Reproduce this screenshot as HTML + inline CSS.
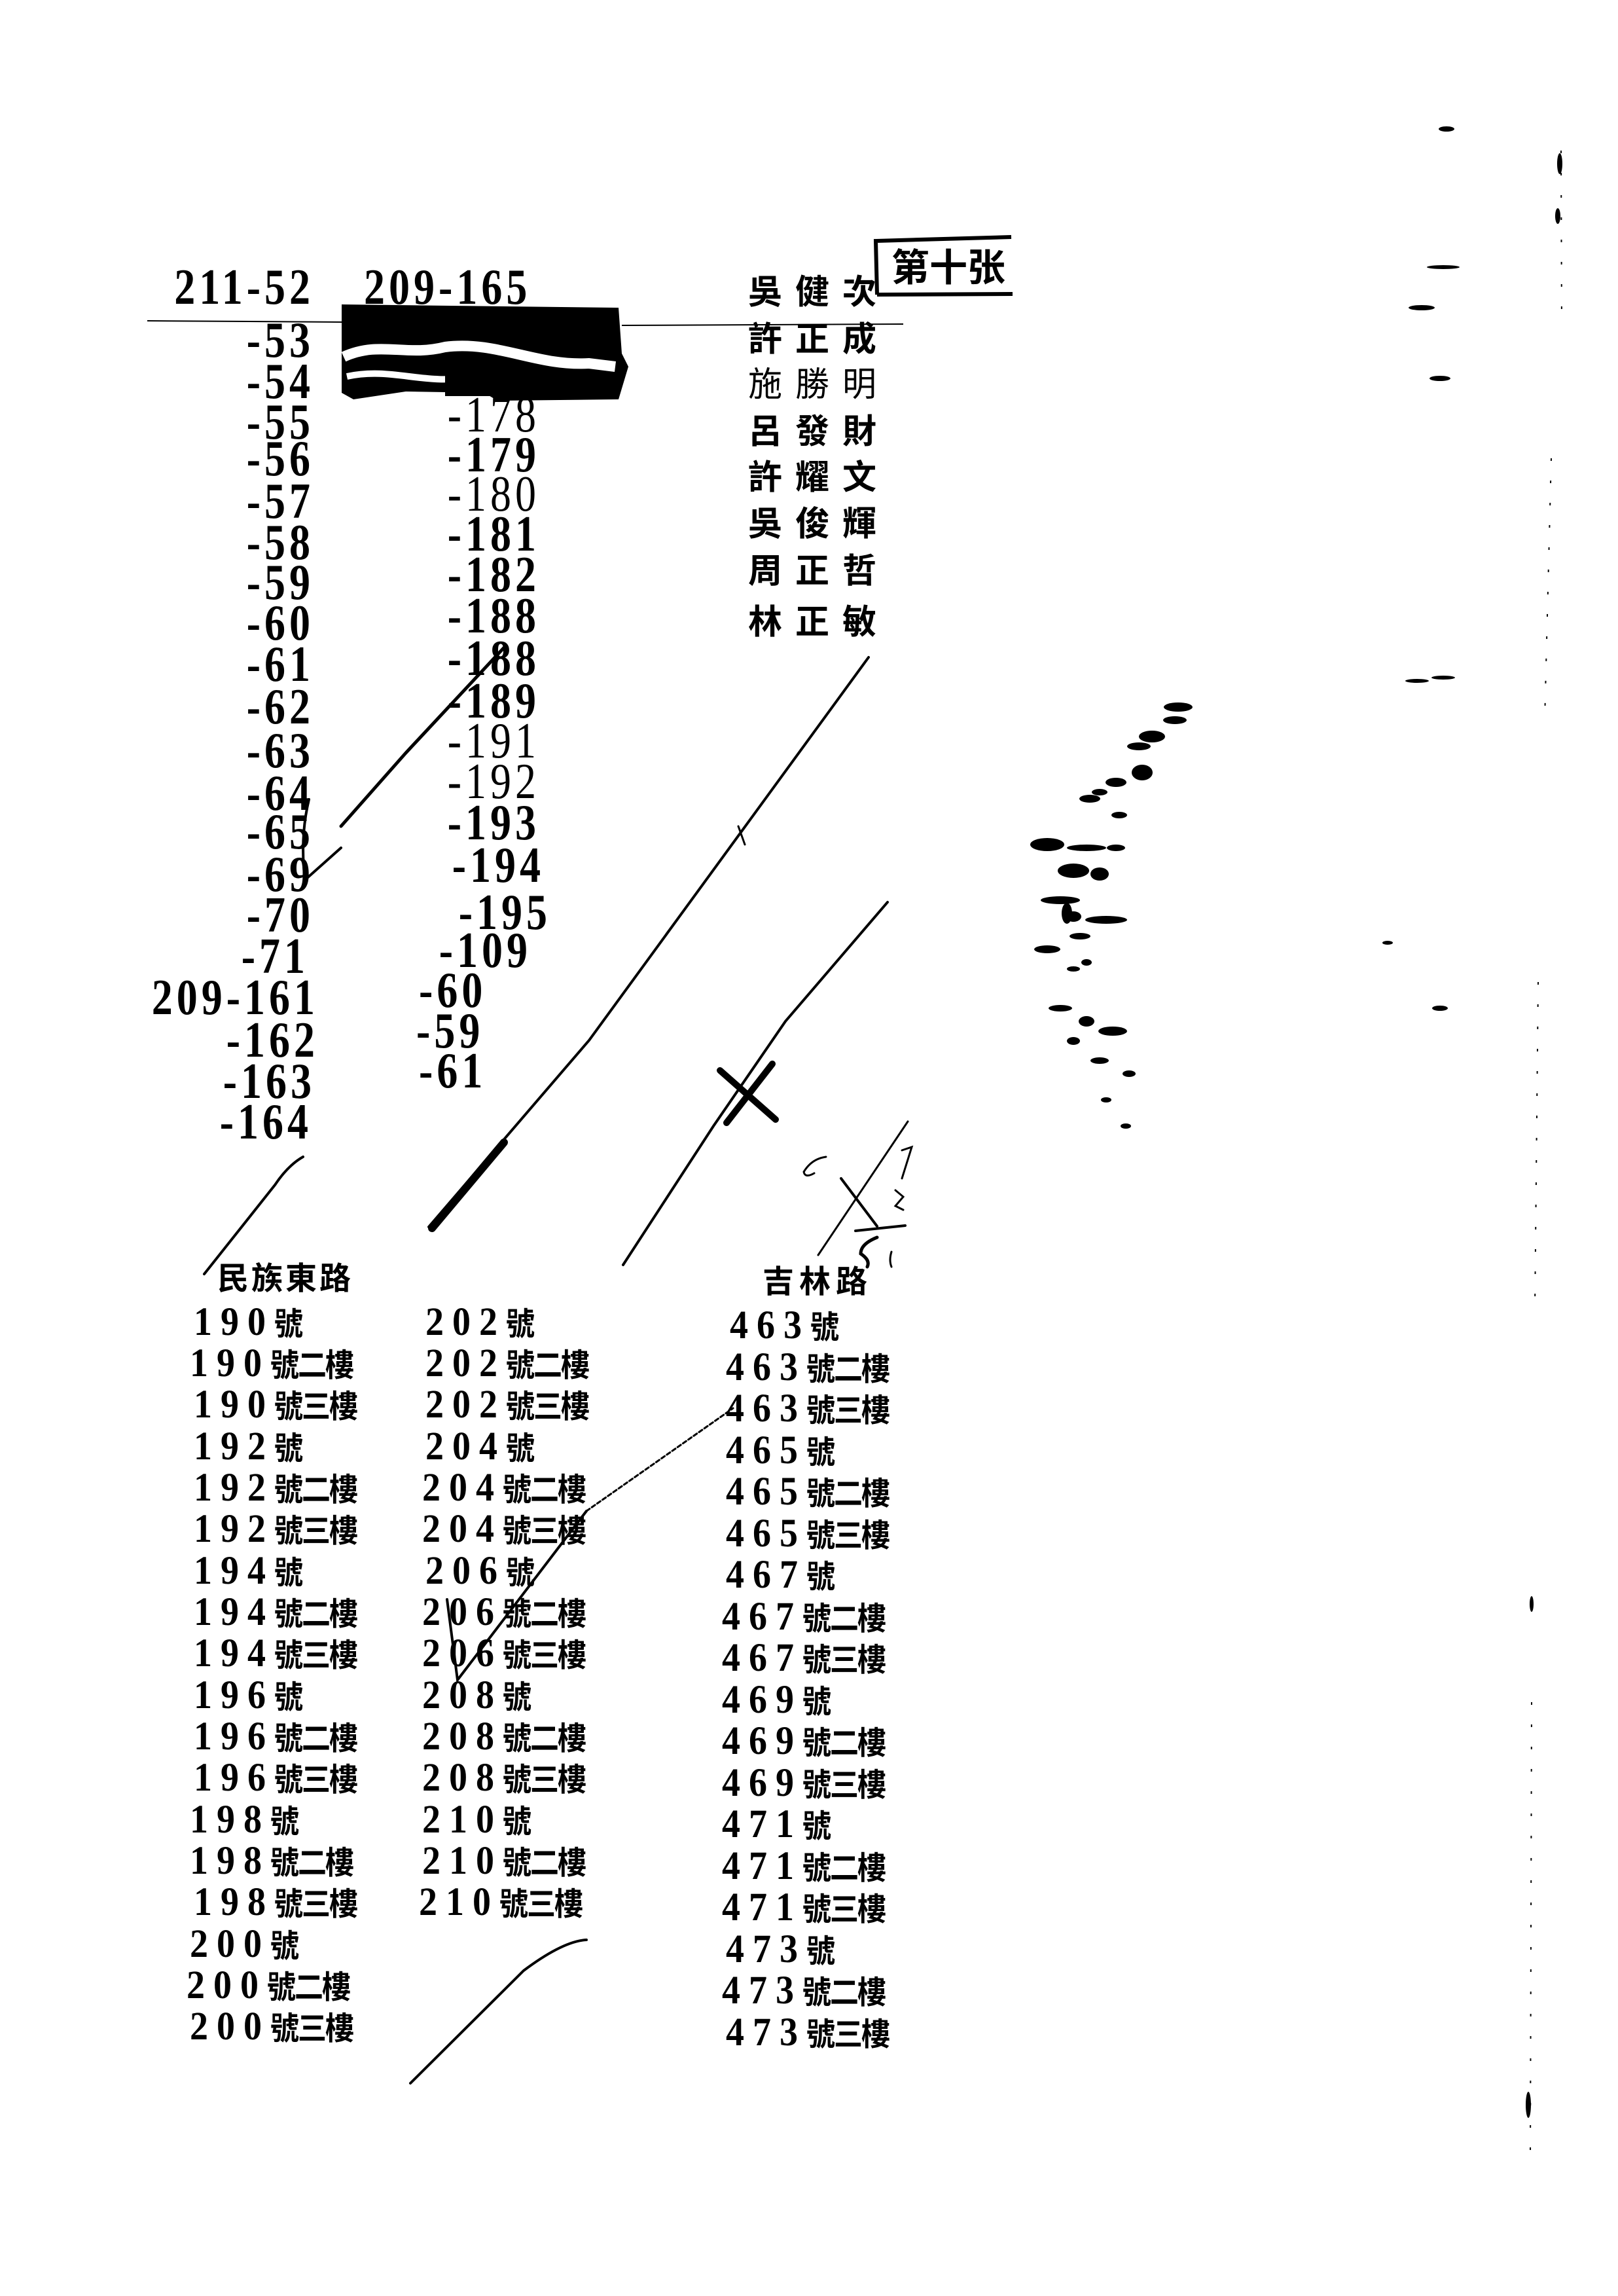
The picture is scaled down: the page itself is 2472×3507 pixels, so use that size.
<!DOCTYPE html>
<html><head><meta charset="utf-8"><style>
html,body{margin:0;padding:0;background:#fff}
body{width:2472px;height:3507px;position:relative;overflow:hidden}
.t{position:absolute;white-space:nowrap;color:#000;font-family:"Liberation Serif","Noto Serif CJK SC",serif;font-weight:bold;line-height:1}
.n{font-size:64px;letter-spacing:6px;transform:scaleY(1.2)}
.r{text-align:right}
.c{font-family:"Liberation Serif","Noto Sans CJK TC",sans-serif;font-size:52px;letter-spacing:20px}
.b{font-size:56px;letter-spacing:13px;transform:scaleY(1.1)}
.b span{font-family:"Noto Sans CJK TC",sans-serif;font-size:44px;letter-spacing:-2px}
svg{position:absolute;left:0;top:0}
</style></head><body>

<div class="t n r" style="right:1992px;top:407px">211-52</div>
<div class="t n r" style="right:1992px;top:488px">-53</div>
<div class="t n r" style="right:1992px;top:551px">-54</div>
<div class="t n r" style="right:1992px;top:613px">-55</div>
<div class="t n r" style="right:1992px;top:669px">-56</div>
<div class="t n r" style="right:1992px;top:734px">-57</div>
<div class="t n r" style="right:1992px;top:797px">-58</div>
<div class="t n r" style="right:1992px;top:858px">-59</div>
<div class="t n r" style="right:1992px;top:920px">-60</div>
<div class="t n r" style="right:1992px;top:983px">-61</div>
<div class="t n r" style="right:1992px;top:1048px">-62</div>
<div class="t n r" style="right:1992px;top:1115px">-63</div>
<div class="t n r" style="right:1992px;top:1180px">-64</div>
<div class="t n r" style="right:1992px;top:1239px">-65</div>
<div class="t n r" style="right:1992px;top:1304px">-69</div>
<div class="t n r" style="right:1992px;top:1366px">-70</div>
<div class="t n r" style="right:2000px;top:1429px">-71</div>
<div class="t n r" style="right:1985px;top:1492px">209-161</div>
<div class="t n r" style="right:1985px;top:1557px">-162</div>
<div class="t n r" style="right:1990px;top:1620px">-163</div>
<div class="t n r" style="right:1995px;top:1682px">-164</div>

<div class="t n" style="left:556px;top:407px">209-165</div>
<div class="t n r" style="right:1647px;top:602px;font-weight:normal">-178</div>
<div class="t n r" style="right:1647px;top:663px">-179</div>
<div class="t n r" style="right:1647px;top:723px;font-weight:normal">-180</div>
<div class="t n r" style="right:1647px;top:784px">-181</div>
<div class="t n r" style="right:1647px;top:846px">-182</div>
<div class="t n r" style="right:1647px;top:909px">-188</div>
<div class="t n r" style="right:1647px;top:974px">-188</div>
<div class="t n r" style="right:1647px;top:1039px">-189</div>
<div class="t n r" style="right:1647px;top:1100px;font-weight:normal">-191</div>
<div class="t n r" style="right:1647px;top:1162px;font-weight:normal">-192</div>
<div class="t n r" style="right:1647px;top:1225px">-193</div>
<div class="t n r" style="right:1640px;top:1290px">-194</div>
<div class="t n r" style="right:1630px;top:1362px">-195</div>
<div class="t n r" style="right:1660px;top:1420px">-109</div>
<div class="t n" style="left:640px;top:1481px">-60</div>
<div class="t n" style="left:636px;top:1543px">-59</div>
<div class="t n" style="left:640px;top:1604px">-61</div>

<div class="t c" style="left:1143px;top:422px">吳健次</div>
<div class="t c" style="left:1143px;top:494px">許正成</div>
<div class="t c" style="left:1143px;top:563px;font-weight:normal">施勝明</div>
<div class="t c" style="left:1143px;top:635px">呂發財</div>
<div class="t c" style="left:1143px;top:705px">許耀文</div>
<div class="t c" style="left:1143px;top:776px">吳俊輝</div>
<div class="t c" style="left:1143px;top:848px">周正哲</div>
<div class="t c" style="left:1143px;top:926px">林正敏</div>

<div class="t" style="left:1362px;top:375px;font-size:58px;font-family:'Noto Sans CJK TC',sans-serif">第十张</div>

<div class="t c" style="left:332px;top:1930px;font-size:48px;letter-spacing:4px">民族東路</div>
<div class="t c" style="left:1165px;top:1935px;font-size:48px;letter-spacing:8px">吉林路</div>

<div class="t b" style="left:296px;top:1991px">190<span>號</span></div>
<div class="t b" style="left:290px;top:2054px">190<span>號二樓</span></div>
<div class="t b" style="left:296px;top:2117px">190<span>號三樓</span></div>
<div class="t b" style="left:296px;top:2181px">192<span>號</span></div>
<div class="t b" style="left:296px;top:2244px">192<span>號二樓</span></div>
<div class="t b" style="left:296px;top:2307px">192<span>號三樓</span></div>
<div class="t b" style="left:296px;top:2371px">194<span>號</span></div>
<div class="t b" style="left:296px;top:2434px">194<span>號二樓</span></div>
<div class="t b" style="left:296px;top:2497px">194<span>號三樓</span></div>
<div class="t b" style="left:296px;top:2561px">196<span>號</span></div>
<div class="t b" style="left:296px;top:2624px">196<span>號二樓</span></div>
<div class="t b" style="left:296px;top:2687px">196<span>號三樓</span></div>
<div class="t b" style="left:290px;top:2751px">198<span>號</span></div>
<div class="t b" style="left:290px;top:2814px">198<span>號二樓</span></div>
<div class="t b" style="left:296px;top:2877px">198<span>號三樓</span></div>
<div class="t b" style="left:290px;top:2941px">200<span>號</span></div>
<div class="t b" style="left:285px;top:3004px">200<span>號二樓</span></div>
<div class="t b" style="left:290px;top:3067px">200<span>號三樓</span></div>

<div class="t b" style="left:650px;top:1991px">202<span>號</span></div>
<div class="t b" style="left:650px;top:2054px">202<span>號二樓</span></div>
<div class="t b" style="left:650px;top:2117px">202<span>號三樓</span></div>
<div class="t b" style="left:650px;top:2181px">204<span>號</span></div>
<div class="t b" style="left:645px;top:2244px">204<span>號二樓</span></div>
<div class="t b" style="left:645px;top:2307px">204<span>號三樓</span></div>
<div class="t b" style="left:650px;top:2371px">206<span>號</span></div>
<div class="t b" style="left:645px;top:2434px">206<span>號二樓</span></div>
<div class="t b" style="left:645px;top:2497px">206<span>號三樓</span></div>
<div class="t b" style="left:645px;top:2561px">208<span>號</span></div>
<div class="t b" style="left:645px;top:2624px">208<span>號二樓</span></div>
<div class="t b" style="left:645px;top:2687px">208<span>號三樓</span></div>
<div class="t b" style="left:645px;top:2751px">210<span>號</span></div>
<div class="t b" style="left:645px;top:2814px">210<span>號二樓</span></div>
<div class="t b" style="left:640px;top:2877px">210<span>號三樓</span></div>

<div class="t b" style="left:1115px;top:1996px">463<span>號</span></div>
<div class="t b" style="left:1109px;top:2060px">463<span>號二樓</span></div>
<div class="t b" style="left:1109px;top:2123px">463<span>號三樓</span></div>
<div class="t b" style="left:1109px;top:2187px">465<span>號</span></div>
<div class="t b" style="left:1109px;top:2250px">465<span>號二樓</span></div>
<div class="t b" style="left:1109px;top:2314px">465<span>號三樓</span></div>
<div class="t b" style="left:1109px;top:2377px">467<span>號</span></div>
<div class="t b" style="left:1103px;top:2441px">467<span>號二樓</span></div>
<div class="t b" style="left:1103px;top:2504px">467<span>號三樓</span></div>
<div class="t b" style="left:1103px;top:2568px">469<span>號</span></div>
<div class="t b" style="left:1103px;top:2631px">469<span>號二樓</span></div>
<div class="t b" style="left:1103px;top:2695px">469<span>號三樓</span></div>
<div class="t b" style="left:1103px;top:2758px">471<span>號</span></div>
<div class="t b" style="left:1103px;top:2822px">471<span>號二樓</span></div>
<div class="t b" style="left:1103px;top:2885px">471<span>號三樓</span></div>
<div class="t b" style="left:1109px;top:2949px">473<span>號</span></div>
<div class="t b" style="left:1103px;top:3012px">473<span>號二樓</span></div>
<div class="t b" style="left:1109px;top:3076px">473<span>號三樓</span></div>

<svg width="2472" height="3507" viewBox="0 0 2472 3507">
 <g fill="#000">
  <path d="M522 465 L945 470 L950 540 L960 560 L945 610 L760 612 L740 600 L620 598 L540 610 L522 600 Z"/>
 </g>
 <path d="M525 545 C580 520 620 545 680 530 C760 520 820 560 900 555 L940 560" stroke="#fff" stroke-width="16" fill="none"/>
 <path d="M530 575 C600 560 650 590 720 575" stroke="#fff" stroke-width="10" fill="none"/>
 <rect x="680" y="565" width="100" height="40" fill="#000"/>
 <path d="M1340 450 L1338 368 L1545 362 M1340 450 L1547 449" stroke="#000" stroke-width="6" fill="none"/>
 <path d="M225 490 L525 492 M950 497 L1380 495" stroke="#000" stroke-width="2" fill="none"/>
 <g stroke="#000" fill="none" stroke-linecap="round">
  <path d="M472 1221 Q458 1280 466 1344 L521 1295" stroke-width="4"/>
  <path d="M521 1262 L620 1150 L773 986" stroke-width="5"/>
  <path d="M655 1874 L760 1752 L900 1589 L1327 1004" stroke-width="4"/>
  <path d="M660 1876 L770 1745" stroke-width="12"/>
  <path d="M952 1932 L1090 1720 L1200 1560 L1356 1378" stroke-width="4"/>
  <path d="M1100 1635 L1185 1710 M1180 1625 L1110 1715" stroke-width="10"/>
  <path d="M312 1946 L420 1810 Q440 1780 463 1767" stroke-width="4"/>
  <path d="M1387 1713 L1250 1917" stroke-width="3"/>
  <path d="M1285 1800 L1340 1873 M1307 1880 L1383 1872" stroke-width="4"/>
  <path d="M1262 1767 Q1240 1770 1228 1790 Q1230 1800 1244 1792" stroke-width="3"/>
  <path d="M1378 1757 L1393 1752 L1378 1800" stroke-width="3"/>
  <path d="M1368 1818 L1380 1828 L1368 1842 L1380 1848" stroke-width="3"/>
  <path d="M1340 1890 Q1315 1900 1315 1915 Q1330 1925 1325 1935" stroke-width="5"/>
  <path d="M1362 1912 Q1358 1925 1362 1935" stroke-width="3"/>
  <path d="M683 2443 L699 2566 L896 2308" stroke-width="4"/>
  <path d="M896 2308 L1120 2151" stroke-width="3" stroke-dasharray="6 4"/>
  <path d="M627 3182 L800 3010 Q860 2965 896 2963" stroke-width="4"/>
  <path d="M1128 1262 L1138 1290" stroke-width="3"/>
 </g>
 <g fill="#000">
  <ellipse cx="1800" cy="1080" rx="22" ry="7"/><ellipse cx="1795" cy="1100" rx="18" ry="6"/>
  <ellipse cx="1760" cy="1125" rx="20" ry="9"/><ellipse cx="1740" cy="1140" rx="18" ry="6"/>
  <ellipse cx="1745" cy="1180" rx="16" ry="12"/><ellipse cx="1705" cy="1195" rx="16" ry="7"/>
  <ellipse cx="1680" cy="1210" rx="12" ry="5"/><ellipse cx="1665" cy="1220" rx="16" ry="6"/>
  <ellipse cx="1710" cy="1245" rx="12" ry="5"/><ellipse cx="1705" cy="1295" rx="14" ry="5"/>
  <ellipse cx="1600" cy="1290" rx="26" ry="10"/><ellipse cx="1660" cy="1295" rx="30" ry="5"/>
  <ellipse cx="1640" cy="1330" rx="24" ry="11"/><ellipse cx="1680" cy="1335" rx="14" ry="10"/>
  <ellipse cx="1620" cy="1375" rx="30" ry="6"/><ellipse cx="1640" cy="1400" rx="12" ry="8"/>
  <ellipse cx="1690" cy="1405" rx="32" ry="6"/><ellipse cx="1650" cy="1430" rx="16" ry="5"/>
  <ellipse cx="1630" cy="1395" rx="8" ry="16"/><ellipse cx="1660" cy="1470" rx="8" ry="5"/>
  <ellipse cx="1600" cy="1450" rx="20" ry="6"/><ellipse cx="1640" cy="1480" rx="10" ry="4"/>
  <ellipse cx="1620" cy="1540" rx="18" ry="5"/><ellipse cx="1660" cy="1560" rx="12" ry="8"/>
  <ellipse cx="1700" cy="1575" rx="22" ry="7"/><ellipse cx="1640" cy="1590" rx="10" ry="6"/>
  <ellipse cx="1680" cy="1620" rx="14" ry="5"/><ellipse cx="1725" cy="1640" rx="10" ry="5"/>
  <ellipse cx="1690" cy="1680" rx="8" ry="4"/><ellipse cx="1720" cy="1720" rx="8" ry="4"/>
  <ellipse cx="2210" cy="197" rx="12" ry="4"/><ellipse cx="2172" cy="470" rx="20" ry="4"/>
  <ellipse cx="2205" cy="408" rx="25" ry="3"/><ellipse cx="2200" cy="578" rx="16" ry="4"/>
  <ellipse cx="2165" cy="1040" rx="18" ry="3"/><ellipse cx="2205" cy="1035" rx="18" ry="3"/>
  <ellipse cx="2120" cy="1440" rx="8" ry="3"/><ellipse cx="2200" cy="1540" rx="12" ry="4"/>
  <ellipse cx="2340" cy="2450" rx="3" ry="12"/><ellipse cx="2335" cy="3215" rx="4" ry="20"/>
  <ellipse cx="2383" cy="250" rx="4" ry="16"/><ellipse cx="2380" cy="330" rx="4" ry="12"/>
 </g>
 <path d="M2385 230 L2386 500 M2370 700 L2360 1100 M2350 1500 L2345 2000 M2340 2600 L2338 3300" stroke="#000" stroke-width="2" stroke-dasharray="4 30" fill="none"/>
</svg>
</body></html>
